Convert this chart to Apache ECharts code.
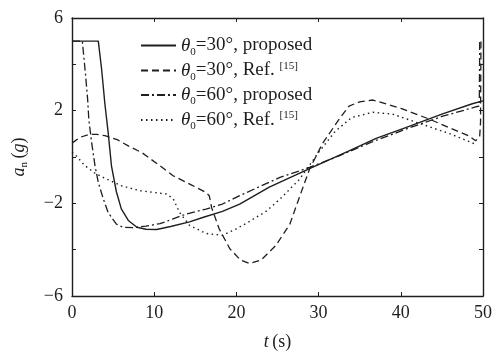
<!DOCTYPE html>
<html>
<head>
<meta charset="utf-8">
<style>
    html, body { margin: 0; padding: 0; background: #fff; }
    #main { width: 495px; height: 356px; }
</style>
</head>
<body>
<div id="main"></div>
<script src="https://cdn.jsdelivr.net/npm/echarts@6/dist/echarts.min.js"></script>
<script type="text/javascript">
    // 数据 [t (s), a_n (g)]
    var prop30 = [[0,5],[3.2,5],[3.6,3.8],[4.0,2.3],[4.4,1.05],[4.8,-0.38],[5.4,-1.5],[6.0,-2.24],[6.85,-2.74],[7.9,-3.03],
        [9,-3.12],[10.3,-3.13],[12,-3.0],[14.3,-2.8],[16,-2.6],[18.3,-2.35],[20.4,-2.03],[24,-1.3],[28.9,-0.5],
        [33.7,0.26],[37,0.8],[40.6,1.27],[45,1.85],[48.7,2.3],[50,2.42]];
    var ref30 = [[0,0.6],[1,0.85],[2,0.97],[3,0.98],[4,0.92],[5.5,0.75],[6.85,0.48],[8.5,0.19],[10.7,-0.38],[12.3,-0.81],
        [14.5,-1.2],[16.3,-1.53],[16.7,-1.67],[17,-2.2],[17.9,-3.1],[19.2,-3.96],[20.5,-4.45],[21.6,-4.6],[23,-4.45],
        [24.8,-3.82],[26.5,-2.9],[27.6,-1.8],[28.9,-0.52],[30.5,0.6],[32.5,1.63],[33.7,2.2],[35,2.38],[36.6,2.46],
        [40,2.1],[43.5,1.63],[46,1.25],[48.3,0.91],[49.1,0.7],[49.6,0.9],[49.7,1.5],[49.75,5]];
    var prop60 = [[0,5],[1.26,5],[1.39,4.5],[1.66,3.5],[1.9,2.5],[2.05,1.6],[2.4,0.6],[2.8,-0.38],[3.2,-1.1],[3.8,-1.8],
        [4.4,-2.4],[5.4,-2.9],[6.2,-3.03],[7.5,-3.05],[9,-2.98],[10.7,-2.88],[12.3,-2.67],[13.9,-2.46],[16.3,-2.25],
        [18.3,-2.03],[20.4,-1.67],[25.3,-0.88],[28.9,-0.45],[32.5,0.05],[36.5,0.65],[40.6,1.2],[45,1.75],
        [49.3,2.18],[49.55,2.2],[49.6,5]];
    var ref60 = [[0,0.2],[0.4,0.1],[1.5,-0.35],[2.8,-0.7],[3.6,-0.85],[6,-1.24],[8.2,-1.45],[11.5,-1.6],[12.3,-1.8],
        [13.1,-2.4],[14.3,-2.95],[16.3,-3.3],[18.3,-3.38],[20,-3.1],[21.5,-2.8],[23.6,-2.35],[25.5,-1.75],[27.7,-0.95],
        [30,0.2],[32,1.1],[34,1.7],[36.6,1.93],[39,1.85],[42.6,1.41],[46,1.0],[49.1,0.55]];

    var names = ['p30', 'r30', 'p60', 'r60'];
    var labels = {
        p30: '{th|θ}{sub|0}{t|=30°, proposed}',
        r30: '{th|θ}{sub|0}{t|=30°, Ref. }{sup|[15]}',
        p60: '{th|θ}{sub|0}{t|=60°, proposed}',
        r60: '{th|θ}{sub|0}{t|=60°, Ref. }{sup|[15]}'
    };
    var ink = '#1e1e1e';
    var serif = 'Liberation Serif';

    var myChart = echarts.init(document.getElementById('main'));
    var option = {
        animation: false,
        grid: { left: 72, right: 11, top: 18, bottom: 58 },
        legend: {
            data: names,
            left: 135,
            top: 31,
            orient: 'vertical',
            itemWidth: 35,
            itemHeight: 10,
            itemGap: 3,
            itemStyle: { opacity: 0 },
            formatter: function (n) { return labels[n]; },
            textStyle: {
                fontFamily: serif, fontSize: 19, color: ink,
                rich: {
                    th: { fontFamily: serif, fontSize: 19, fontStyle: 'italic', color: ink },
                    sub: { fontFamily: serif, fontSize: 11, color: ink, padding: [13, 0, 0, 0] },
                    t: { fontFamily: serif, fontSize: 19, color: ink },
                    sup: { fontFamily: serif, fontSize: 11, color: ink, padding: [0, 0, 9, 0] }
                }
            }
        },
        xAxis: [
            {
                type: 'value', min: 0, max: 50, interval: 10,
                name: '{i|t} {n|(s)}', nameLocation: 'middle', nameGap: 37,
                nameTextStyle: { rich: {
                    i: { fontFamily: serif, fontSize: 18, fontStyle: 'italic', color: ink },
                    n: { fontFamily: serif, fontSize: 18, color: ink }
                } },
                axisLine: { show: true, onZero: false, lineStyle: { color: ink, width: 1.4 } },
                axisTick: { show: true, inside: true, length: 4, lineStyle: { color: ink } },
                axisLabel: { fontFamily: serif, fontSize: 18, color: ink, margin: 8 },
                splitLine: { show: false }
            },
            {
                type: 'value', min: 0, max: 50, interval: 10, position: 'top',
                axisLine: { show: true, onZero: false, lineStyle: { color: ink, width: 1.4 } },
                axisTick: { show: true, inside: true, length: 4, lineStyle: { color: ink } },
                axisLabel: { show: false },
                splitLine: { show: false }
            }
        ],
        yAxis: [
            {
                type: 'value', min: -6, max: 6, interval: 2,
                name: '{i|a}{s|n} {n|(}{i|g}{n|)}', nameLocation: 'middle', nameGap: 42, nameRotate: 90,
                nameTextStyle: { rich: {
                    i: { fontFamily: serif, fontSize: 18, fontStyle: 'italic', color: ink },
                    s: { fontFamily: serif, fontSize: 11, color: ink, padding: [10, 0, 0, 0] },
                    n: { fontFamily: serif, fontSize: 18, color: ink }
                } },
                axisLine: { show: true, onZero: false, lineStyle: { color: ink, width: 1.4 } },
                axisTick: { show: true, inside: true, length: 4, lineStyle: { color: ink } },
                axisLabel: {
                    fontFamily: serif, fontSize: 18, color: ink, margin: 9,
                    formatter: function (v) {
                        if (Math.abs(v) === 6 || Math.abs(v) === 2) return String(v).replace('-', '−');
                        return '';
                    }
                },
                splitLine: { show: false }
            },
            {
                type: 'value', min: -6, max: 6, interval: 2, position: 'right',
                axisLine: { show: true, onZero: false, lineStyle: { color: ink, width: 1.4 } },
                axisTick: { show: true, inside: true, length: 4, lineStyle: { color: ink } },
                axisLabel: { show: false },
                splitLine: { show: false }
            }
        ],
        series: [
            { name: 'p30', type: 'line', data: prop30, symbol: 'none', smooth: false,
              lineStyle: { color: ink, width: 1.4, type: 'solid' }, itemStyle: { color: ink } },
            { name: 'r30', type: 'line', data: ref30, symbol: 'none',
              lineStyle: { color: ink, width: 1.3, type: [7, 4] }, itemStyle: { color: ink } },
            { name: 'p60', type: 'line', data: prop60, symbol: 'none',
              lineStyle: { color: ink, width: 1.3, type: [8, 3, 2, 3] }, itemStyle: { color: ink } },
            { name: 'r60', type: 'line', data: ref60, symbol: 'none',
              lineStyle: { color: ink, width: 1.4, type: [1.5, 3.5] }, itemStyle: { color: ink } }
        ]
    };

    myChart.setOption(option);
</script>
</body>
</html>
